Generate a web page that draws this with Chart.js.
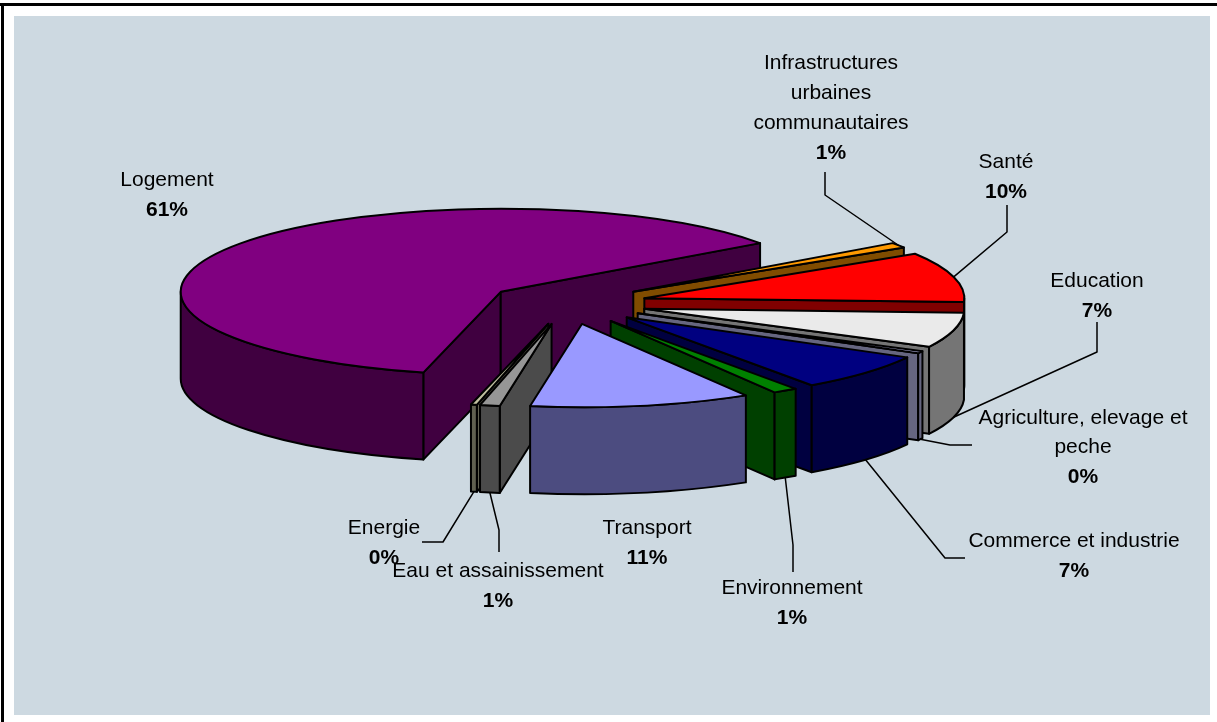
<!DOCTYPE html>
<html><head><meta charset="utf-8">
<style>html,body{margin:0;padding:0;background:#fff}canvas{display:block}</style>
<script src="https://cdn.jsdelivr.net/npm/chart.js@4"></script>
</head><body><canvas id="c" width="1217" height="722"></canvas>
<script>
// clockwise from the Logement slice
const categories = ['Logement','Infrastructures urbaines communautaires','Santé','Education','Agriculture, elevage et peche','Commerce et industrie','Environnement','Transport','Eau et assainissement','Energie'];
const shares = [61.15,1,9.7,6.8,0.45,7.2,1.25,11.15,1,0.3];

const topColors  = ['#800080','#FF9900','#FF0000','#EAEAEA','#CCCCFF','#000080','#008000','#9999FF','#969696','#C0C0A0'];
const sideColors = ['#400040','#804C00','#800000','#757575','#666680','#000040','#004000','#4C4C80','#4B4B4B','#606050'];
const paintOrder = [0,1,2,3,4,5,6,9,8,7];

const squash = 0.26, depth = 87, explode = 80;
const labelLayout = [
 {lines:['Logement'],x:167,y:180},
 {lines:['Infrastructures','urbaines','communautaires'],x:831,y:63,leader:[[825,195],[825,172]],rim:0},
 {lines:['Santé'],x:1006,y:162,leader:[[1007,232],[1007,205]],rim:0},
 {lines:['Education'],x:1097,y:281,leader:[[1097,352],[1097,322]],rim:1},
 {lines:['Agriculture, elevage et','peche'],x:1083,y:418,leader:[[950,445],[972,445]],rim:1,gap:29},
 {lines:['Commerce et industrie'],x:1074,y:541,leader:[[945,558],[965,558]],rim:1},
 {lines:['Environnement'],x:792,y:588,leader:[[793,545],[793,572]],rim:1},
 {lines:['Transport'],x:647,y:528},
 {lines:['Eau et assainissement'],x:498,y:571,leader:[[499,530],[499,552]],rim:1},
 {lines:['Energie'],x:384,y:528,leader:[[443,542],[422,542]],rim:1}
];
const total = shares.reduce((a,b)=>a+b,0);
const FONT = '"Liberation Sans", Arial, sans-serif';
const TAU = Math.PI*2;

function frontRanges(s,e){
  const out=[];
  for(let k=-2;k<=2;k++){
    const a=Math.max(s,k*TAU), b=Math.min(e,k*TAU+Math.PI);
    if(b>a) out.push([a,b]);
  }
  return out;
}

const pie3d = {
  id:'pie3d',
  beforeDraw(chart){
    const c=chart.ctx;
    c.save();
    c.fillStyle='#fff'; c.fillRect(0,0,1217,722);
    c.fillStyle='#CDD9E1'; c.fillRect(14,16,1196,699);
    c.fillStyle='#000'; c.fillRect(0,3,1217,3); c.fillRect(1,3,3,719);
    c.restore();
  },
  beforeDatasetsDraw(chart){
    const c=chart.ctx, arcs=chart.getDatasetMeta(0).data;
    c.save();
    c.lineJoin='round';
    c.strokeStyle='#000'; c.lineWidth=2;
    paintOrder.forEach(i=>{
      const el=arcs[i], R=el.outerRadius, s=el.startAngle, e=el.endAngle, m=(s+e)/2;
      const ax=el.x+explode*Math.cos(m), ay=el.y+explode*squash*Math.sin(m);
      const px=t=>ax+R*Math.cos(t), py=t=>ay+R*squash*Math.sin(t);
      c.fillStyle=sideColors[i];
      const quad=t=>{c.beginPath();c.moveTo(ax,ay);c.lineTo(px(t),py(t));c.lineTo(px(t),py(t)+depth);c.lineTo(ax,ay+depth);c.closePath();c.fill();c.stroke();};
      if(Math.cos(s)<0) quad(s);
      if(Math.cos(e)>0) quad(e);
      frontRanges(s,e).forEach(([a,b])=>{
        c.beginPath();
        c.ellipse(ax,ay,R,R*squash,0,a,b);
        c.lineTo(px(b),py(b)+depth);
        c.ellipse(ax,ay+depth,R,R*squash,0,b,a,true);
        c.closePath();c.fill();c.stroke();
      });
      // the top face: the library's own arc, seen through the tilt
      c.save();
      c.translate(ax,ay); c.scale(1,squash); c.translate(-el.x,-el.y);
      el.draw(c,chart.chartArea);
      c.restore();
      c.beginPath();c.moveTo(ax,ay);c.ellipse(ax,ay,R,R*squash,0,s,e);c.closePath();c.stroke();
    });
    // leaders
    c.lineWidth=1.5;
    labelLayout.forEach((l,i)=>{
      if(!l.leader) return;
      const el=arcs[i], R=el.outerRadius, m=(el.startAngle+el.endAngle)/2;
      const ax=el.x+explode*Math.cos(m), ay=el.y+explode*squash*Math.sin(m);
      c.beginPath();
      c.moveTo(ax+R*Math.cos(m), ay+R*squash*Math.sin(m)+(l.rim?depth:0));
      l.leader.forEach(p=>c.lineTo(p[0],p[1]));
      c.stroke();
    });
    // labels
    c.fillStyle='#000'; c.textAlign='center'; c.textBaseline='middle';
    labelLayout.forEach((l,i)=>{
      c.font='21px '+FONT;
      const gap=l.gap||30;
      l.lines.forEach((t,j)=>c.fillText(t,l.x,l.y+j*gap));
      c.font='bold 21px '+FONT;
      c.fillText(Math.round(shares[i]/total*100)+'%',l.x,l.y+l.lines.length*gap+(l.gap?1:0));
    });
    c.restore();
    return false;
  }
};

new Chart(document.getElementById('c'),{
  type:'pie',
  data:{labels:categories,datasets:[{data:shares,backgroundColor:topColors,borderWidth:0,radius:320}]},
  options:{
    responsive:false,animation:false,events:[],rotation:194,
    layout:{padding:{left:0,right:83,top:0,bottom:115}},
    plugins:{legend:{display:false},tooltip:{enabled:false}}
  },
  plugins:[pie3d]
});
</script></body></html>
